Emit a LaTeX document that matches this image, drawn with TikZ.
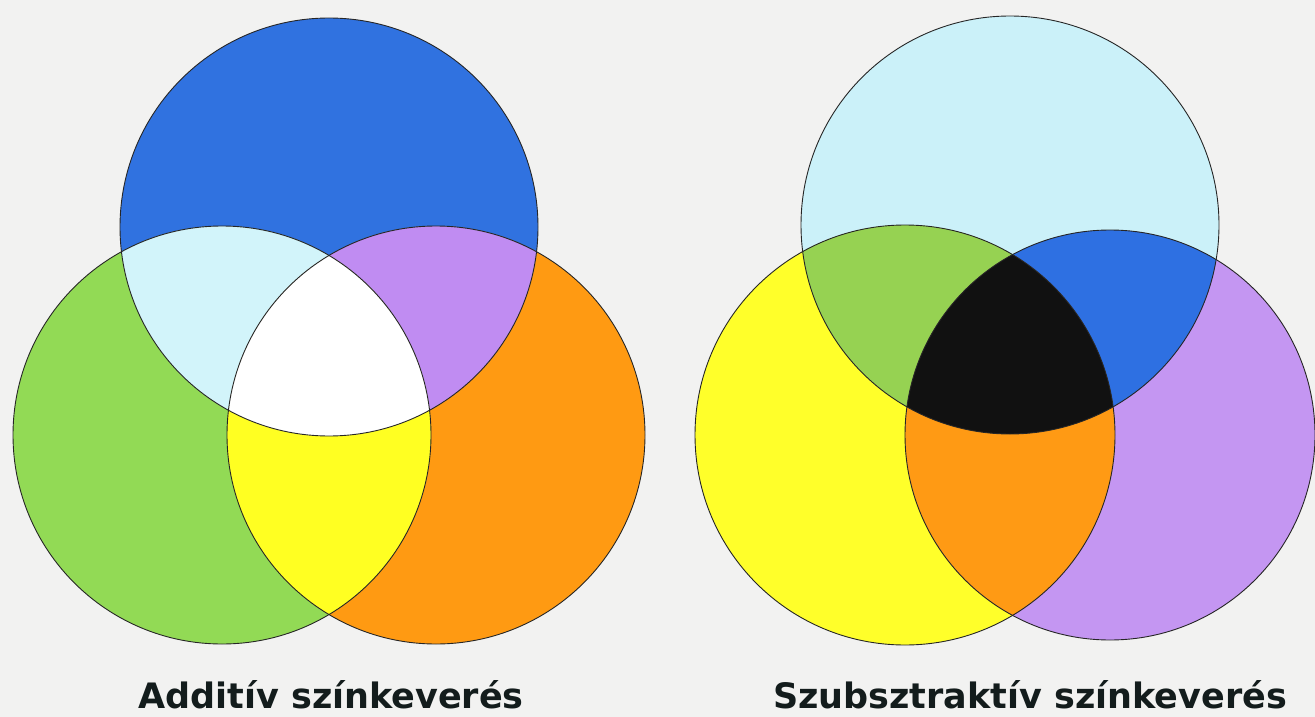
\documentclass[tikz,border=0pt]{standalone}
\usepackage{fontspec}
\setmainfont{DejaVu Sans}
\begin{document}
\begin{tikzpicture}[x=1pt,y=-1pt,
  ring/.style={draw=black!85,line width=0.9pt},
  caption/.style={font=\fontsize{35}{35}\selectfont\bfseries,text=capc,inner sep=0pt,anchor=base}]
\definecolor{bg}{HTML}{F2F2F1}
\definecolor{capc}{HTML}{131C1C}
\definecolor{aBlue}{HTML}{3072E0}
\definecolor{aGreen}{HTML}{92DA55}
\definecolor{aOrange}{HTML}{FF9A12}
\definecolor{aCyan}{HTML}{D2F4FA}
\definecolor{aPurple}{HTML}{C08CF2}
\definecolor{aYellow}{HTML}{FFFF22}
\definecolor{sCyan}{HTML}{CBF1F9}
\definecolor{sYellow}{HTML}{FFFF2A}
\definecolor{sPurple}{HTML}{C496F2}
\definecolor{sGreen}{HTML}{96D252}
\definecolor{sBlue}{HTML}{2E70E2}
\definecolor{sOrange}{HTML}{FF9A14}
\definecolor{sBlack}{HTML}{111111}
\fill[bg] (0,0) rectangle (1315,717);
\useasboundingbox (0,0) rectangle (1315,717);
% ---- additive ----
\coordinate (aB) at (329,227);
\coordinate (aG) at (222,435);
\coordinate (aO) at (436,435);
\def\rB{209}\def\rG{209}\def\rO{209}
\fill[aBlue] (aB) circle (\rB);
\fill[aGreen] (aG) circle (\rG);
\fill[aOrange] (aO) circle (\rO);
\begin{scope}\clip (aB) circle (\rB); \fill[aCyan] (aG) circle (\rG); \end{scope}
\begin{scope}\clip (aB) circle (\rB); \fill[aPurple] (aO) circle (\rO); \end{scope}
\begin{scope}\clip (aG) circle (\rG); \fill[aYellow] (aO) circle (\rO); \end{scope}
\begin{scope}\clip (aB) circle (\rB); \clip (aG) circle (\rG); \fill[white] (aO) circle (\rO); \end{scope}
\draw[ring] (aB) circle (\rB);
\draw[ring] (aG) circle (\rG);
\draw[ring] (aO) circle (\rO);
% ---- subtractive ----
\coordinate (sC) at (1010,225);
\coordinate (sY) at (905,435);
\coordinate (sP) at (1110,435);
\def\rC{209}\def\rY{210}\def\rP{205}
\fill[sCyan] (sC) circle (\rC);
\fill[sYellow] (sY) circle (\rY);
\fill[sPurple] (sP) circle (\rP);
\begin{scope}\clip (sC) circle (\rC); \fill[sGreen] (sY) circle (\rY); \end{scope}
\begin{scope}\clip (sC) circle (\rC); \fill[sBlue] (sP) circle (\rP); \end{scope}
\begin{scope}\clip (sY) circle (\rY); \fill[sOrange] (sP) circle (\rP); \end{scope}
\begin{scope}\clip (sC) circle (\rC); \clip (sY) circle (\rY); \fill[sBlack] (sP) circle (\rP); \end{scope}
\draw[ring] (sC) circle (\rC);
\draw[ring] (sY) circle (\rY);
\draw[ring] (sP) circle (\rP);
% ---- captions ----
\node[caption] (capA) at (331,708) {Additív színkeverés};
\node[caption] (capS) at (1030,708) {Szubsztraktív színkeverés};
\end{tikzpicture}
\end{document}
